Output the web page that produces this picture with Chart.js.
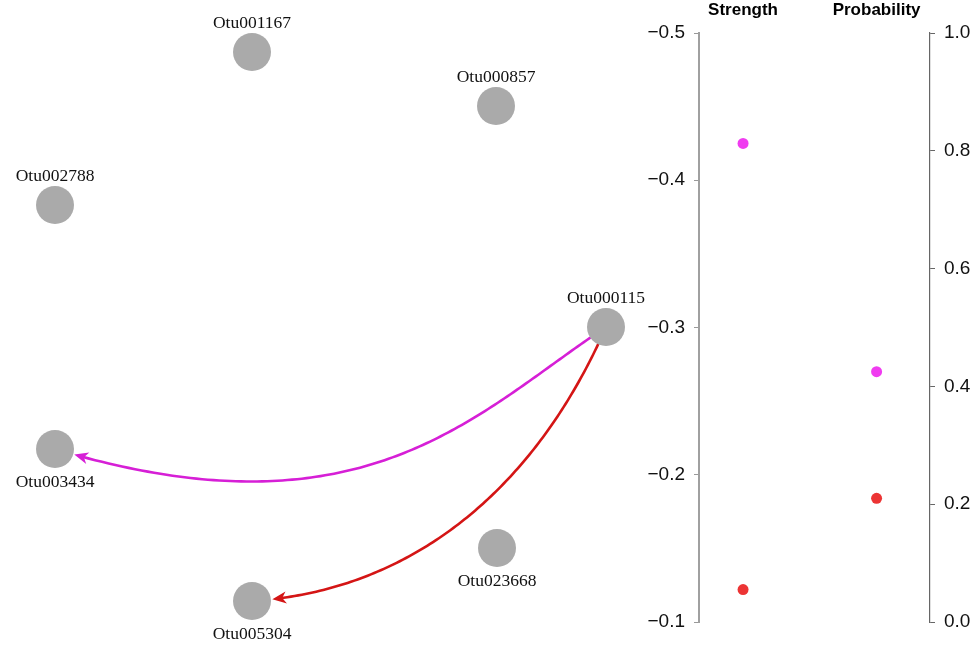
<!DOCTYPE html>
<html>
<head>
<meta charset="utf-8">
<script src="https://cdn.jsdelivr.net/npm/chart.js@4.4.0/dist/chart.umd.min.js"></script>
<style>
  html, body { margin: 0; padding: 0; background: #fff; }
  #wrap { position: relative; width: 977px; height: 648px; }
  #net, #scores { position: absolute; left: 0; top: 0; }
</style>
</head>
<body>
<div id="wrap">
  <canvas id="net" width="660" height="648"></canvas>
  <canvas id="scores" width="977" height="648"></canvas>
</div>
<script>
// network layout (x right, y down)
const nodeNames = ['Otu001167', 'Otu000857', 'Otu002788', 'Otu000115', 'Otu003434', 'Otu023668', 'Otu005304'];
const nodeX = [252, 496, 55, 606, 55, 497, 252];
const nodeY = [52, 106, 205, 327, 449, 548, 601];
const labelSide = ['top', 'top', 'top', 'top', 'bottom', 'bottom', 'bottom'];

// edges
const edgeFrom = ['Otu000115', 'Otu000115'];
const edgeTo = ['Otu003434', 'Otu005304'];
const edgeStrength = [-0.425, -0.122];
const edgeProbability = [0.425, 0.21];

// right panel
const metricNames = ['Strength', 'Probability'];
const strengthTicks = [-0.5, -0.4, -0.3, -0.2, -0.1];
const probabilityTicks = [0, 0.2, 0.4, 0.6, 0.8, 1.0];

const edgeColors = ['#d61fd6', '#d41515'];
const dotColors = ['#f03cf0', '#ec3434'];
// bend handles: along chord / across chord, for the two bezier control points
const edgeBend = [[0.26, 0.1, 0.5, 0.28], [0.33, 0.18, 0.69, 0.21]];
const NODE_R = 19;

const edgePlugin = {
  id: 'edges',
  beforeDatasetsDraw(chart) {
    const ctx = chart.ctx, xs = chart.scales.x, ys = chart.scales.y;
    edgeFrom.forEach((from, i) => {
      const a = nodeNames.indexOf(from), b = nodeNames.indexOf(edgeTo[i]);
      const p0 = [xs.getPixelForValue(nodeX[a]), ys.getPixelForValue(nodeY[a])];
      const p3 = [xs.getPixelForValue(nodeX[b]), ys.getPixelForValue(nodeY[b])];
      const dx = p3[0] - p0[0], dy = p3[1] - p0[1];
      const k = edgeBend[i];
      const p1 = [p0[0] + k[0] * dx + k[1] * dy, p0[1] + k[0] * dy - k[1] * dx];
      const p2 = [p0[0] + k[2] * dx + k[3] * dy, p0[1] + k[2] * dy - k[3] * dx];
      const B = t => {
        const u = 1 - t;
        return [u*u*u*p0[0] + 3*u*u*t*p1[0] + 3*u*t*t*p2[0] + t*t*t*p3[0],
                u*u*u*p0[1] + 3*u*u*t*p1[1] + 3*u*t*t*p2[1] + t*t*t*p3[1]];
      };
      const dist = (p, q) => Math.hypot(p[0] - q[0], p[1] - q[1]);
      let t0 = 0, t1 = 1;
      while (t0 < 1 && dist(B(t0), p0) < NODE_R) t0 += 0.001;
      while (t1 > 0 && dist(B(t1), p3) < NODE_R + 1) t1 -= 0.001;
      const tip = B(t1), back = B(t1 - 0.02);
      const ang = Math.atan2(tip[1] - back[1], tip[0] - back[0]);
      const len = 14, half = 6, notch = 10;
      ctx.save();
      ctx.strokeStyle = edgeColors[i];
      ctx.lineWidth = 2.6;
      ctx.lineCap = 'round';
      ctx.beginPath();
      for (let s = 0; s <= 120; s++) {
        const p = B(t0 + (t1 - t0) * s / 120 - (s === 120 ? 0.01 : 0));
        if (s === 0) ctx.moveTo(p[0], p[1]); else ctx.lineTo(p[0], p[1]);
      }
      ctx.stroke();
      ctx.translate(tip[0], tip[1]);
      ctx.rotate(ang);
      ctx.fillStyle = edgeColors[i];
      ctx.beginPath();
      ctx.moveTo(0, 0);
      ctx.lineTo(-len, -half);
      ctx.lineTo(-notch, 0);
      ctx.lineTo(-len, half);
      ctx.closePath();
      ctx.fill();
      ctx.restore();
    });
  },
  afterDatasetsDraw(chart) {
    const ctx = chart.ctx, xs = chart.scales.x, ys = chart.scales.y;
    ctx.save();
    ctx.fillStyle = '#111';
    ctx.font = '17.5px "Liberation Serif", "Times New Roman", serif';
    ctx.textAlign = 'center';
    ctx.textBaseline = 'middle';
    nodeNames.forEach((name, i) => {
      const px = xs.getPixelForValue(nodeX[i]);
      const py = ys.getPixelForValue(nodeY[i]);
      ctx.fillText(name, px, labelSide[i] === 'top' ? py - 29 : py + 33);
    });
    ctx.restore();
  }
};

new Chart(document.getElementById('net'), {
  type: 'scatter',
  data: {
    datasets: [{
      data: nodeNames.map((n, i) => ({ x: nodeX[i], y: nodeY[i] })),
      pointRadius: NODE_R,
      pointHoverRadius: NODE_R,
      pointBackgroundColor: '#aaaaaa',
      pointBorderWidth: 0,
      clip: false
    }]
  },
  options: {
    responsive: false, animation: false, devicePixelRatio: 1,
    layout: { padding: 0, autoPadding: false },
    plugins: { legend: { display: false }, tooltip: { enabled: false } },
    scales: {
      x: { type: 'linear', min: 0, max: 660, display: false },
      y: { type: 'linear', min: 0, max: 648, reverse: true, display: false }
    }
  },
  plugins: [edgePlugin]
});

const tickFont = { family: '"Liberation Sans", Arial, sans-serif', size: 19 };

new Chart(document.getElementById('scores'), {
  type: 'scatter',
  data: {
    datasets: [
      { label: metricNames[0], yAxisID: 'ys', data: edgeStrength.map(v => ({ x: 0, y: v })),
        pointBackgroundColor: dotColors, pointBorderWidth: 0, pointRadius: 5.5 },
      { label: metricNames[1], yAxisID: 'yp', data: edgeProbability.map(v => ({ x: 1, y: v })),
        pointBackgroundColor: dotColors, pointBorderWidth: 0, pointRadius: 5.5 }
    ]
  },
  options: {
    responsive: false, animation: false, devicePixelRatio: 1,
    layout: { padding: { left: 639, right: 0, top: 0, bottom: 26 }, autoPadding: false },
    plugins: { legend: { display: false }, tooltip: { enabled: false } },
    scales: {
      x: {
        type: 'linear', position: 'top', min: -0.33, max: 1.4,
        afterBuildTicks: s => { s.ticks = [{ value: 0 }, { value: 1 }]; },
        afterFit: s => { s.height = 33; },
        ticks: { callback: v => metricNames[v], autoSkip: false, maxRotation: 0, padding: 12, color: '#000',
                 font: { family: '"Liberation Sans", Arial, sans-serif', size: 17, weight: 'bold' } },
        grid: { display: false, drawTicks: false },
        border: { display: false }
      },
      ys: {
        type: 'linear', position: 'left', reverse: true, min: -0.5, max: -0.1,
        afterBuildTicks: s => { s.ticks = strengthTicks.map(v => ({ value: v })); },
        afterFit: s => { s.width = 60; },
        ticks: { callback: v => (v < 0 ? '\u2212' : '') + Math.abs(v).toFixed(1), padding: 9, color: '#111', font: tickFont },
        grid: { display: true, drawOnChartArea: false, tickLength: 5, color: '#999', lineWidth: 1 },
        border: { display: true, color: '#a0a0a0', width: 2 }
      },
      yp: {
        type: 'linear', position: 'right', min: 0, max: 1,
        afterBuildTicks: s => { s.ticks = probabilityTicks.map(v => ({ value: v })); },
        afterFit: s => { s.width = 47; },
        ticks: { callback: v => v.toFixed(1), padding: 9, color: '#111', font: tickFont },
        grid: { display: true, drawOnChartArea: false, tickLength: 5, color: '#666', lineWidth: 1 },
        border: { display: true, color: '#666', width: 1.2 }
      }
    }
  }
});
</script>
</body>
</html>
